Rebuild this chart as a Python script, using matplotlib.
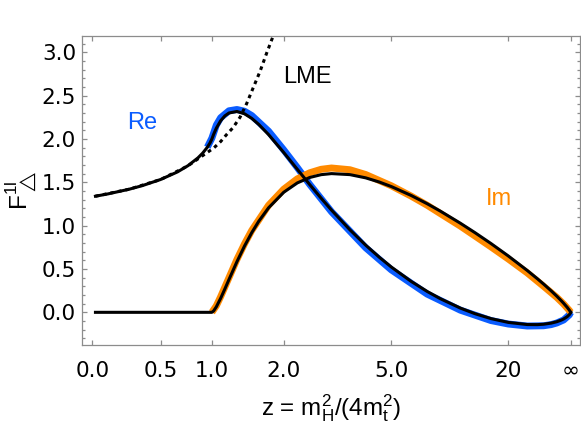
import numpy as np
import matplotlib
matplotlib.use("Agg")
import matplotlib.pyplot as plt
from matplotlib.ticker import MultipleLocator, FormatStrFormatter

plt.rcParams['font.family'] = ['Liberation Sans', 'DejaVu Sans']
plt.rcParams['mathtext.default'] = 'regular'

# --- data ---
# full one-loop result (black)
z_full = [0.02, 0.1, 0.25, 0.35, 0.5, 0.65, 0.75, 0.85, 0.9, 0.95, 0.98, 1.0,
          1.02, 1.05, 1.1, 1.15, 1.2, 1.3, 1.4, 1.5, 1.6, 1.75, 2.0, 2.25,
          2.5, 2.75, 3.0, 3.5, 4.0, 4.5, 5.0, 6.0, 7.0, 8.0, 10, 12, 15, 20,
          30, 40, 50, 70, 100, 150, 200, 400, 1000, 5000, np.inf]
re_full = [1.3396, 1.3657, 1.4200, 1.4614, 1.5326, 1.6200, 1.6919, 1.7815,
           1.8370, 1.9047, 1.9558, 2.0000, 2.0549, 2.1241, 2.2100, 2.2664,
           2.2999, 2.3172, 2.2905, 2.2373, 2.1685, 2.0508, 1.8453, 1.6500,
           1.4734, 1.3170, 1.1793, 0.9520, 0.7749, 0.6350, 0.5228, 0.3561,
           0.2407, 0.1576, 0.0490, -0.0161, -0.0724, -0.1164, -0.1410,
           -0.1421, -0.1373, -0.1249, -0.1085, -0.0893, -0.0765, -0.0505,
           -0.0274, -0.0084, 0.0]
im_full = [0.0, 0.0, 0.0, 0.0, 0.0, 0.0, 0.0, 0.0, 0.0, 0.0, 0.0, 0.0,
           0.0170, 0.0632, 0.1616, 0.2695, 0.3783, 0.5839, 0.7648, 0.9194,
           1.0496, 1.2054, 1.3845, 1.4931, 1.5558, 1.5882, 1.6004, 1.5887,
           1.5515, 1.5030, 1.4511, 1.3478, 1.2528, 1.1683, 1.0283, 0.9187,
           0.7937, 0.6501, 0.4829, 0.3877, 0.3256, 0.2490, 0.1862, 0.1330,
           0.1044, 0.0578, 0.0260, 0.0062, 0.0]

# approximation, real part (blue)
z_re = [0.95, 1.0, 1.05, 1.1, 1.2, 1.3, 1.4, 1.5, 1.75, 2.0, 2.25, 2.5, 3.0,
        4.0, 5.0, 7.0, 10, 15, 20, 30, 50, 70, 100, 200, 1000, np.inf]
re_app = [1.905, 2.01, 2.16, 2.245, 2.325, 2.34, 2.32, 2.27, 2.09, 1.875,
          1.67, 1.475, 1.16, 0.745, 0.49, 0.21, 0.025, -0.095, -0.135,
          -0.158, -0.155, -0.142, -0.123, -0.088, -0.030, 0.0]

# approximation, imaginary part (orange)
z_im = [1.0, 1.05, 1.1, 1.2, 1.3, 1.4, 1.5, 1.75, 2.0, 2.25, 2.5, 2.75, 3.0,
        3.5, 4.0, 5.0, 6.0, 7.0, 8.0, 10, 12, 15, 20, 30, 50, 100, 200,
        1000, np.inf]
im_app = [0.0, 0.075, 0.18, 0.40, 0.61, 0.79, 0.945, 1.235, 1.42, 1.54,
          1.61, 1.65, 1.665, 1.645, 1.59, 1.46, 1.34, 1.235, 1.14, 0.995,
          0.88, 0.755, 0.615, 0.455, 0.30, 0.172, 0.095, 0.022, 0.0]

# low mass expansion (dotted)
z_lme = [0.02, 0.25, 0.5, 0.75, 0.85, 0.95, 1.02, 1.1, 1.17, 1.25, 1.34,
         1.43, 1.52, 1.62, 1.72, 1.83]
re_lme = [1.3396, 1.420, 1.532, 1.690, 1.770, 1.845, 1.895, 1.97, 2.05,
          2.13, 2.25, 2.41, 2.59, 2.78, 2.99, 3.20]

xtick_z = [0.0, 0.5, 1.0, 2.0, 5.0, 20.0, np.inf]
xtick_lab = ['0.0', '0.5', '1.0', '2.0', '5.0', '20', '\u221e']


def zpos(z):
    # axis is linear in z/(z+3): 0 -> 0, 1 -> 1/4, infinity -> 1
    z = np.asarray(z, float)
    with np.errstate(divide='ignore'):
        return 1.0 / (1.0 + 3.0 / z)


fig = plt.figure(figsize=(5.81, 4.25), dpi=100)
ax = fig.add_axes([82/581, 1 - 345/425, 498/581, 309/425])

blue = '#0a5cff'
orange = '#ff8a00'

ax.plot(zpos(z_re), re_app, color=blue, lw=5, solid_capstyle='butt')
ax.plot(zpos(z_im), im_app, color=orange, lw=5, solid_capstyle='butt')
ax.plot(zpos(z_full), re_full, color='black', lw=2.2)
ax.plot(zpos(z_full), im_full, color='black', lw=2.2)
ax.plot(zpos(z_lme), re_lme, color='black', lw=2.2, ls=(0, (1.2, 1.3)))

ax.text(0.1205, 0.718, 'Re', color=blue, fontsize=17, ha='center',
        va='center', transform=ax.transAxes)
ax.text(0.838, 0.4725, 'Im', color=orange, fontsize=17, ha='center',
        va='center', transform=ax.transAxes)
ax.text(0.4528, 0.867, 'LME', color='black', fontsize=17, ha='center',
        va='center', transform=ax.transAxes)

ax.set_xlim(-0.0215, 1.0194)
ax.set_ylim(-0.377, 3.188)
ax.set_xticks(zpos(xtick_z))
ax.set_xticklabels(xtick_lab)
ax.yaxis.set_major_locator(MultipleLocator(0.5))
ax.yaxis.set_minor_locator(MultipleLocator(0.1))
ax.yaxis.set_major_formatter(FormatStrFormatter('%.1f'))

for s in ax.spines.values():
    s.set_color('#8c8c8c')
    s.set_linewidth(0.9)
ax.tick_params(which='both', direction='in', top=True, right=True,
               color='#8c8c8c', width=0.9, labelcolor='black')
ax.tick_params(which='major', length=3.8)
ax.tick_params(which='minor', length=2.0)
ax.tick_params(axis='x', pad=11.5)
ax.tick_params(axis='y', pad=4.3)
for lab in ax.get_xticklabels() + ax.get_yticklabels():
    lab.set_fontfamily('DejaVu Sans')
    lab.set_fontsize(15.5)

ax.set_xlabel(r'z = m$_H^2$/(4m$_t^2$)', fontsize=17.5, labelpad=8)
ax.set_ylabel(r'F$^{1l}_{\triangle}$', fontsize=17.5, labelpad=2)

fig.savefig('out.png', dpi=100)
